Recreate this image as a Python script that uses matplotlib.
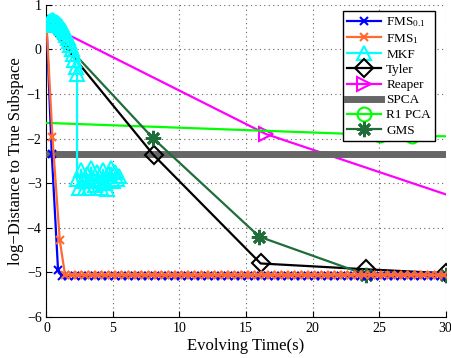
import numpy as np
import matplotlib
matplotlib.use("Agg")
import matplotlib.pyplot as plt

plt.rcParams["font.family"] = ["Liberation Serif", "DejaVu Serif"]
plt.rcParams["mathtext.fontset"] = "custom"
plt.rcParams["mathtext.rm"] = "Liberation Serif"
plt.rcParams["mathtext.it"] = "Liberation Serif:italic"

# FMS with p = 0.1
fms01_t = [0, 0.4, 0.87, 1.15, 1.65, 2.15, 2.65, 3.15, 3.65, 4.15, 4.65, 5.15, 5.65,
           6.15, 6.65, 7.15, 7.65, 8.15, 8.65, 9.15, 9.65, 10.15, 10.65, 11.15, 11.65,
           12.15, 12.65, 13.15, 13.65, 14.15, 14.65, 15.15, 15.65, 16.15, 16.65, 17.15,
           17.65, 18.15, 18.65, 19.15, 19.65, 20.15, 20.65, 21.15, 21.65, 22.15, 22.65,
           23.15, 23.65, 24.15, 24.65, 25.15, 25.65, 26.15, 26.65, 27.15, 27.65, 28.15,
           28.65, 29.15, 29.65]
fms01_v = [0.57, -2.35, -4.94, -5.07, -5.07, -5.07, -5.07, -5.07, -5.07, -5.07, -5.07,
           -5.07, -5.07, -5.07, -5.07, -5.07, -5.07, -5.07, -5.07, -5.07, -5.07, -5.07,
           -5.07, -5.07, -5.07, -5.07, -5.07, -5.07, -5.07, -5.07, -5.07, -5.07, -5.07,
           -5.07, -5.07, -5.07, -5.07, -5.07, -5.07, -5.07, -5.07, -5.07, -5.07, -5.07,
           -5.07, -5.07, -5.07, -5.07, -5.07, -5.07, -5.07, -5.07, -5.07, -5.07, -5.07,
           -5.07, -5.07, -5.07, -5.07, -5.07, -5.07]

# FMS with p = 1
fms1_t = [0, 0.45, 1.0, 1.4, 1.9, 2.4, 2.9, 3.4, 3.9, 4.4, 4.9, 5.4, 5.9, 6.4, 6.9,
          7.4, 7.9, 8.4, 8.9, 9.4, 9.9, 10.4, 10.9, 11.4, 11.9, 12.4, 12.9, 13.4, 13.9,
          14.4, 14.9, 15.4, 15.9, 16.4, 16.9, 17.4, 17.9, 18.4, 18.9, 19.4, 19.9, 20.4,
          20.9, 21.4, 21.9, 22.4, 22.9, 23.4, 23.9, 24.4, 24.9, 25.4, 25.9, 26.4, 26.9,
          27.4, 27.9, 28.4, 28.9, 29.4, 29.9]
fms1_v = [0.57, -1.96, -4.28, -5.06, -5.06, -5.06, -5.06, -5.06, -5.06, -5.06, -5.06,
          -5.06, -5.06, -5.06, -5.06, -5.06, -5.06, -5.06, -5.06, -5.06, -5.06, -5.06,
          -5.06, -5.06, -5.06, -5.06, -5.06, -5.06, -5.06, -5.06, -5.06, -5.06, -5.06,
          -5.06, -5.06, -5.06, -5.06, -5.06, -5.06, -5.06, -5.06, -5.06, -5.06, -5.06,
          -5.06, -5.06, -5.06, -5.06, -5.06, -5.06, -5.06, -5.06, -5.06, -5.06, -5.06,
          -5.06, -5.06, -5.06, -5.06, -5.06, -5.06]

mkf_t = [0, 0.1, 0.2, 0.3, 0.4, 0.5, 0.6, 0.7, 0.8, 0.9, 1.0, 1.1, 1.2, 1.3, 1.4, 1.5,
         1.6, 1.7, 1.8, 1.9, 2.0, 2.1, 2.2, 2.3, 2.3, 2.45, 2.6, 2.75, 2.9, 3.05, 3.2,
         3.35, 3.5, 3.65, 3.8, 3.95, 4.1, 4.25, 4.4, 4.55, 4.7, 4.85, 5.0, 5.15, 5.3, 5.45]
mkf_v = [0.55, 0.6, 0.62, 0.64, 0.65, 0.65, 0.64, 0.62, 0.6, 0.58, 0.55, 0.52, 0.48,
         0.44, 0.38, 0.32, 0.25, 0.18, 0.1, 0.0, -0.1, -0.25, -0.4, -0.55, -2.9, -3.12,
         -2.7, -2.95, -3.1, -2.8, -3.12, -2.65, -2.9, -3.05, -2.75, -2.95, -3.1, -2.7,
         -3.0, -3.13, -2.8, -2.65, -2.95, -2.75, -2.9, -2.85]

tyler_t = [0, 8.05, 16.1, 24.0, 30.0]
tyler_v = [0.57, -2.37, -4.8, -4.93, -5.02]

reaper_t = [0, 16.5, 30.0]
reaper_v = [0.57, -1.9, -3.25]

spca_t = [0, 30]
spca_v = [-2.34, -2.34]

r1pca_t = [0, 25.1, 27.5, 30.0]
r1pca_v = [-1.65, -1.92, -1.94, -1.95]

gms_t = [0, 8.0, 16.0, 24.0, 30.0]
gms_v = [0.57, -1.99, -4.2, -5.05, -5.05]

fig = plt.figure(figsize=(4.51, 3.58), dpi=100)
ax = fig.add_axes([0.103, 0.1145, 0.885, 0.8725])

lw = 1.6
ax.plot(fms01_t, fms01_v, color="#0000ff", lw=lw, marker="x", ms=6, mew=1.5,
        label="FMS$_{0.1}$", zorder=5)
ax.plot(fms1_t, fms1_v, color="#ff6a33", lw=lw, marker="x", ms=6, mew=1.5,
        label="FMS$_1$", zorder=5)
ax.plot(mkf_t, mkf_v, color="#00ffff", lw=lw, marker="^", ms=10, mfc="none",
        mew=1.5, label="MKF", zorder=6)
ax.plot(tyler_t, tyler_v, color="black", lw=lw, marker="D", ms=9, mfc="none",
        mew=1.5, label="Tyler", zorder=4)
ax.plot(reaper_t, reaper_v, color="#ff00ff", lw=lw, marker=">", ms=10, mfc="none",
        mew=1.5, markevery=[1], label="Reaper", zorder=3)
ax.plot(spca_t, spca_v, color="#666666", lw=5, label="SPCA", zorder=3)
ax.plot(r1pca_t, r1pca_v, color="#00ff00", lw=lw, marker="o", ms=10, mfc="none",
        mew=1.5, markevery=[1, 2], label="R1 PCA", zorder=3)
ax.plot(gms_t, gms_v, color="#1f6e3a", lw=lw, marker=(8, 2, 0), ms=11, mew=2,
        label="GMS", zorder=4)

ax.set_xlim(0, 30)
ax.set_ylim(-6, 1)
ax.set_xticks([0, 5, 10, 15, 20, 25, 30])
ax.set_yticks([-6, -5, -4, -3, -2, -1, 0, 1])
ax.set_yticklabels(["\u22126", "\u22125", "\u22124", "\u22123", "\u22122", "\u22121", "0", "1"])
ax.grid(True, linestyle=(0, (1, 3)), color="#666666", lw=0.8)
ax.tick_params(direction="in", length=4, labelsize=10)
ax.spines["top"].set_visible(False)
ax.spines["right"].set_visible(False)
ax.set_xlabel("Evolving Time(s)", fontsize=12, labelpad=2)
ax.set_ylabel("log\u2212Distance to True Subspace", fontsize=12, labelpad=2)

leg = ax.legend(loc="upper right", bbox_to_anchor=(0.99, 1.0), fontsize=9.5,
                fancybox=False, framealpha=1, edgecolor="black", labelspacing=0.22,
                handlelength=2.6, borderpad=0.3, handletextpad=0.4)
leg.set_zorder(10)
leg.get_frame().set_linewidth(1.0)

fig.savefig("out.png", dpi=100)
